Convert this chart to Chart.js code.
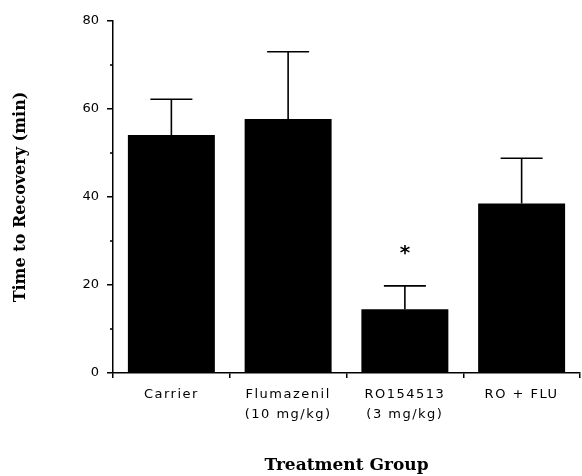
<!DOCTYPE html>
<html><head><meta charset="utf-8">
<script src="https://cdn.jsdelivr.net/npm/chart.js@4"></script>
<style>html,body{margin:0;padding:0;background:#fff}#wrap{width:582px;height:476px;position:relative}</style>
</head><body><div id="wrap"><canvas id="c"></canvas></div>
<script>
const categories = [['Carrier'], ['Flumazenil', '(10 mg/kg)'], ['RO154513', '(3 mg/kg)'], ['RO + FLU']];
const meanTime = [54.1, 57.7, 14.5, 38.5];
const errorUpper = [8.1, 15.3, 5.3, 10.3];
const significance = ['', '', '*', ''];
const yTicks = [0, 20, 40, 60, 80];
const yMinorTicks = [10, 30, 50, 70];

const tickFont = {family: '"DejaVu Sans", sans-serif', size: 13, lineHeight: 1.5};

const errPlugin = {
  id: 'errbars',
  afterDatasetsDraw(chart) {
    const ctx = chart.ctx, y = chart.scales.y, meta = chart.getDatasetMeta(0);
    ctx.save();
    ctx.strokeStyle = '#000';
    ctx.lineWidth = 1.6;
    meta.data.forEach((bar, i) => {
      const base = y.getPixelForValue(meanTime[i]);
      const top = y.getPixelForValue(meanTime[i] + errorUpper[i]);
      ctx.beginPath();
      ctx.moveTo(bar.x, base); ctx.lineTo(bar.x, top);
      ctx.moveTo(bar.x - 21, top); ctx.lineTo(bar.x + 21, top);
      ctx.stroke();
      if (significance[i]) {
        ctx.font = 'bold 20px "DejaVu Sans"';
        ctx.textAlign = 'center';
        ctx.textBaseline = 'alphabetic';
        ctx.fillStyle = '#000';
        ctx.fillText(significance[i], bar.x, top - 27);
      }
    });
    ctx.beginPath();
    yMinorTicks.forEach(v => {
      const py = y.getPixelForValue(v);
      ctx.moveTo(y.right - 3, py); ctx.lineTo(y.right, py);
    });
    ctx.stroke();
    ctx.restore();
    ctx.letterSpacing = '1.5px';
  },
  afterDraw(chart) { chart.ctx.letterSpacing = '0px'; }
};

new Chart(document.getElementById('c'), {
  type: 'bar',
  data: {
    labels: categories,
    datasets: [{
      data: meanTime,
      backgroundColor: '#000',
      borderWidth: 0,
      categoryPercentage: 1,
      barPercentage: 0.745
    }]
  },
  options: {
    responsive: true,
    maintainAspectRatio: false,
    animation: false,
    devicePixelRatio: 1,
    layout: {padding: {top: 21, right: 2, left: 0, bottom: 0}},
    plugins: {legend: {display: false}, tooltip: {enabled: false}},
    scales: {
      x: {
        type: 'category',
        grid: {drawOnChartArea: false, drawTicks: true, tickLength: 5, color: '#000', lineWidth: 1.5, offset: true},
        border: {display: true, color: '#000', width: 1.5},
        ticks: {color: '#000', font: tickFont, padding: 7, maxRotation: 0, autoSkip: false, z: 1},
        title: {display: true, text: 'Treatment Group', color: '#000', font: {family: '"DejaVu Serif", serif', weight: 'bold', size: 17}, padding: {top: 0, bottom: 0}},
        afterFit(s) { s.height = 103; }
      },
      y: {
        min: 0, max: 80,
        afterBuildTicks(s) { s.ticks = yTicks.map(v => ({value: v})); },
        grid: {drawOnChartArea: false, drawTicks: true, tickLength: 6, color: '#000', lineWidth: 1.5},
        border: {display: true, color: '#000', width: 1.5},
        ticks: {color: '#000', font: {family: '"DejaVu Sans", sans-serif', size: 13}, padding: 8},
        title: {display: true, text: 'Time to Recovery (min)', color: '#000', font: {family: '"DejaVu Serif", serif', weight: 'bold', size: 16}, padding: {top: 11, bottom: 0}},
        afterFit(s) { s.width = 113; }
      }
    }
  },
  plugins: [errPlugin]
});
</script>
</body></html>
